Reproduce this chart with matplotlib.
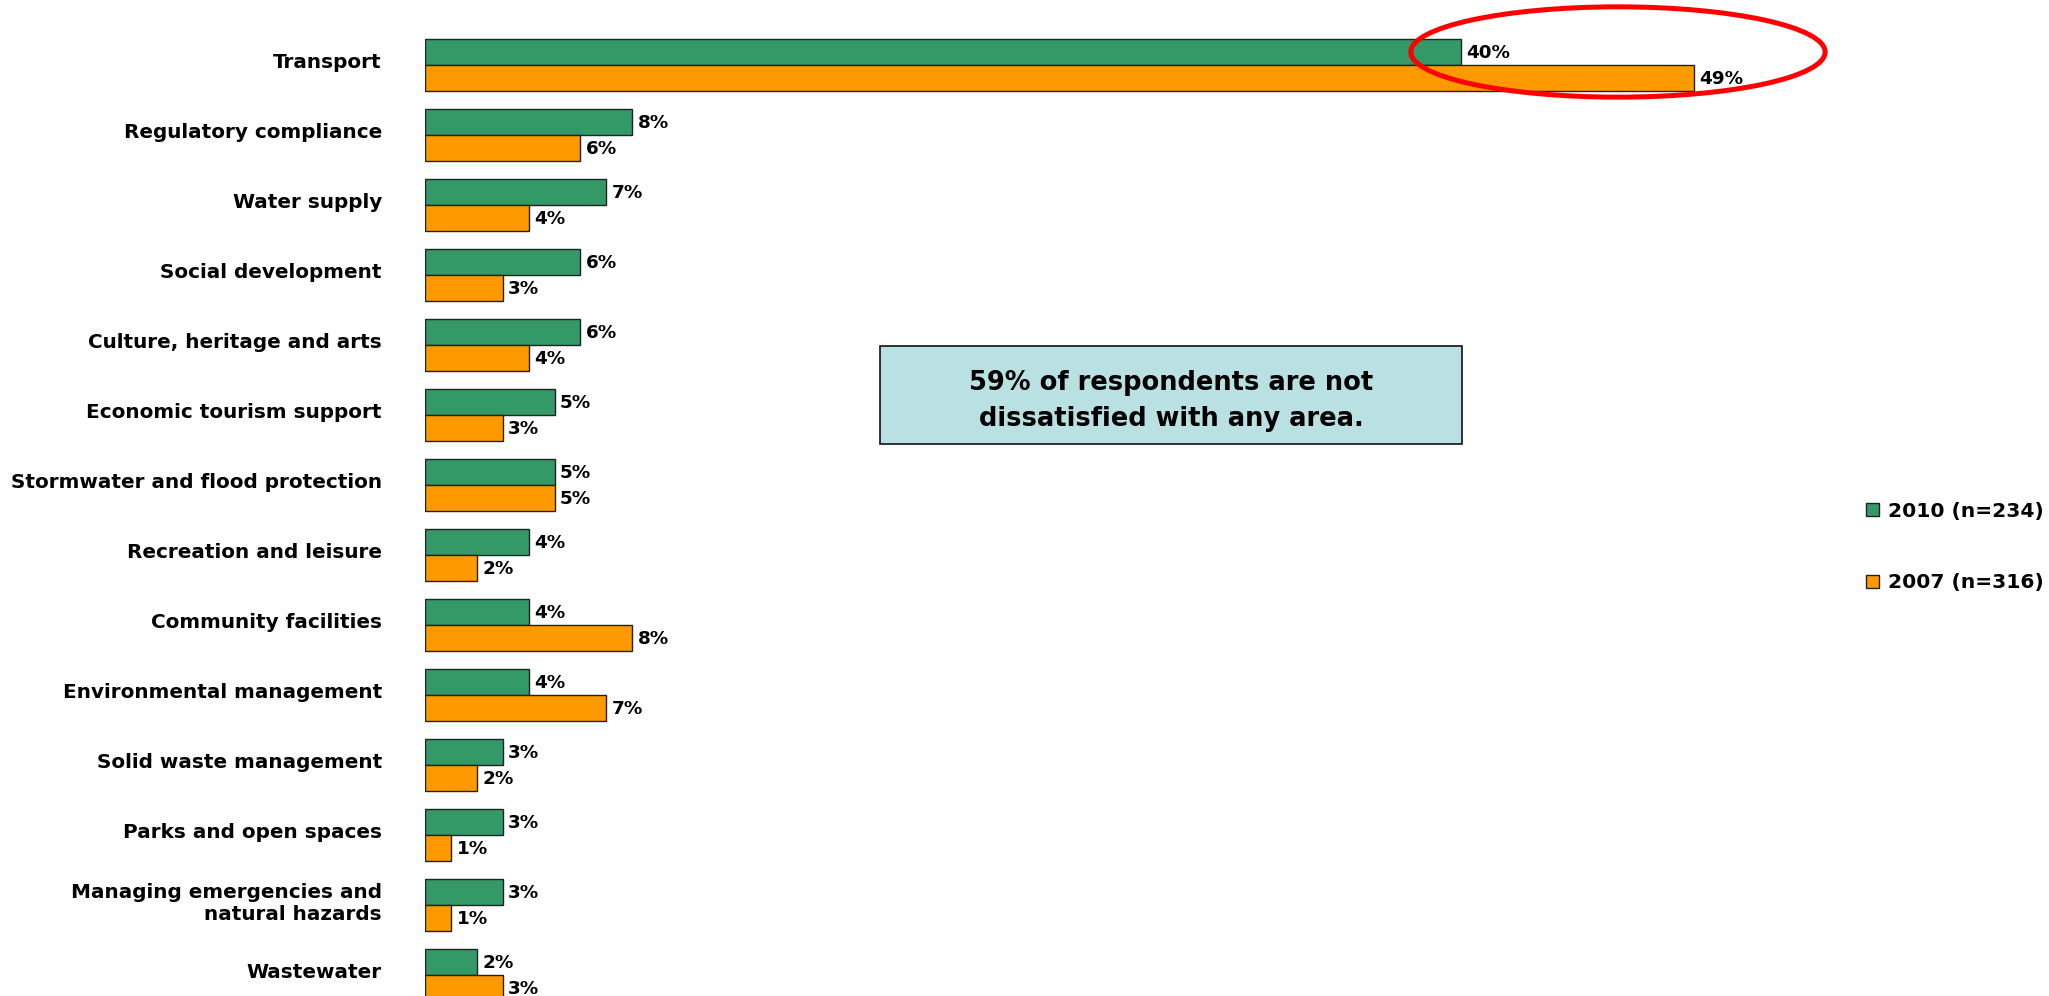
import matplotlib
matplotlib.use("Agg")
import matplotlib.pyplot as plt
import matplotlib.transforms as mtransforms
from matplotlib.patches import Ellipse, Rectangle, Patch
import numpy as np

plt.rcParams['font.family'] = ['DejaVu Sans']
plt.rcParams['font.weight'] = 'bold'

categories = [
    "Transport",
    "Regulatory compliance",
    "Water supply",
    "Social development",
    "Culture, heritage and arts",
    "Economic tourism support",
    "Stormwater and flood protection",
    "Recreation and leisure",
    "Community facilities",
    "Environmental management",
    "Solid waste management",
    "Parks and open spaces",
    "Managing emergencies and\nnatural hazards",
    "Wastewater",
]
values_2010 = [40, 8, 7, 6, 6, 5, 5, 4, 4, 4, 3, 3, 3, 2]
values_2007 = [49, 6, 4, 3, 4, 3, 5, 2, 8, 7, 2, 1, 1, 3]
series_labels = ["2010 (n=234)", "2007 (n=316)"]
note_text = "59% of respondents are not\ndissatisfied with any area."

GREEN = "#339966"
ORANGE = "#FF9900"
EDGE = "#222222"

W, H = 2049, 996
fig = plt.figure(figsize=(W / 100, H / 100), dpi=100)
ax = fig.add_axes([425 / W, 0, 1554 / W, 1])

y = np.arange(len(categories))
bh = 26 / 70
ax.barh(y - bh / 2, values_2010, height=bh, color=GREEN, edgecolor=EDGE, linewidth=1.0)
ax.barh(y + bh / 2, values_2007, height=bh, color=ORANGE, edgecolor=EDGE, linewidth=1.0)

for yi, v in zip(y, values_2010):
    ax.annotate(f"{v}%", (v, yi - bh / 2), xytext=(4, -1), textcoords="offset points",
                ha="left", va="center", fontsize=13.2, fontweight="bold")
for yi, v in zip(y, values_2007):
    ax.annotate(f"{v}%", (v, yi + bh / 2), xytext=(4, -1), textcoords="offset points",
                ha="left", va="center", fontsize=13.2, fontweight="bold")

ax.set_xlim(0, 60)
ax.set_ylim((H - 65) / 70, -65 / 70)
ax.set_yticks(y)
ax.set_yticklabels(categories, fontsize=14.4, fontweight="bold", linespacing=1.2)
ax.tick_params(axis="y", length=0, pad=31)
ax.set_xticks([])
for s in ax.spines.values():
    s.set_visible(False)

# Raise the category labels slightly above the group centres
lift = mtransforms.ScaledTranslation(0, 3.5 / 72, fig.dpi_scale_trans)
for lbl in ax.get_yticklabels():
    lbl.set_transform(lbl.get_transform() + lift)

# Highlight around the Transport bars
ax.add_patch(Ellipse((46.06, -0.186), 16.0, 1.29, fill=False, edgecolor="#FF0000",
                     linewidth=3.6, clip_on=False))

# Note box
fig.patches.append(Rectangle((880 / W, 1 - 444 / H), 582 / W, 98 / H, transform=fig.transFigure,
                             facecolor="#B9E0E3", edgecolor="#111111", linewidth=1.2))
fig.text(1171 / W, 1 - 401 / H, note_text, ha="center", va="center", fontsize=18.5,
         fontweight="bold", linespacing=1.47)

handles = [Patch(facecolor=GREEN, edgecolor=EDGE, linewidth=1.0),
           Patch(facecolor=ORANGE, edgecolor=EDGE, linewidth=1.0)]
fig.legend(handles, series_labels, loc="center left", bbox_to_anchor=(1866 / W, 1 - 547 / H),
           frameon=False, borderpad=0, borderaxespad=0, handlelength=0.62,
           handleheight=0.62, handletextpad=0.45, labelspacing=2.6,
           prop={"weight": "bold", "size": 14.6})

fig.savefig("out.png", dpi=100)
